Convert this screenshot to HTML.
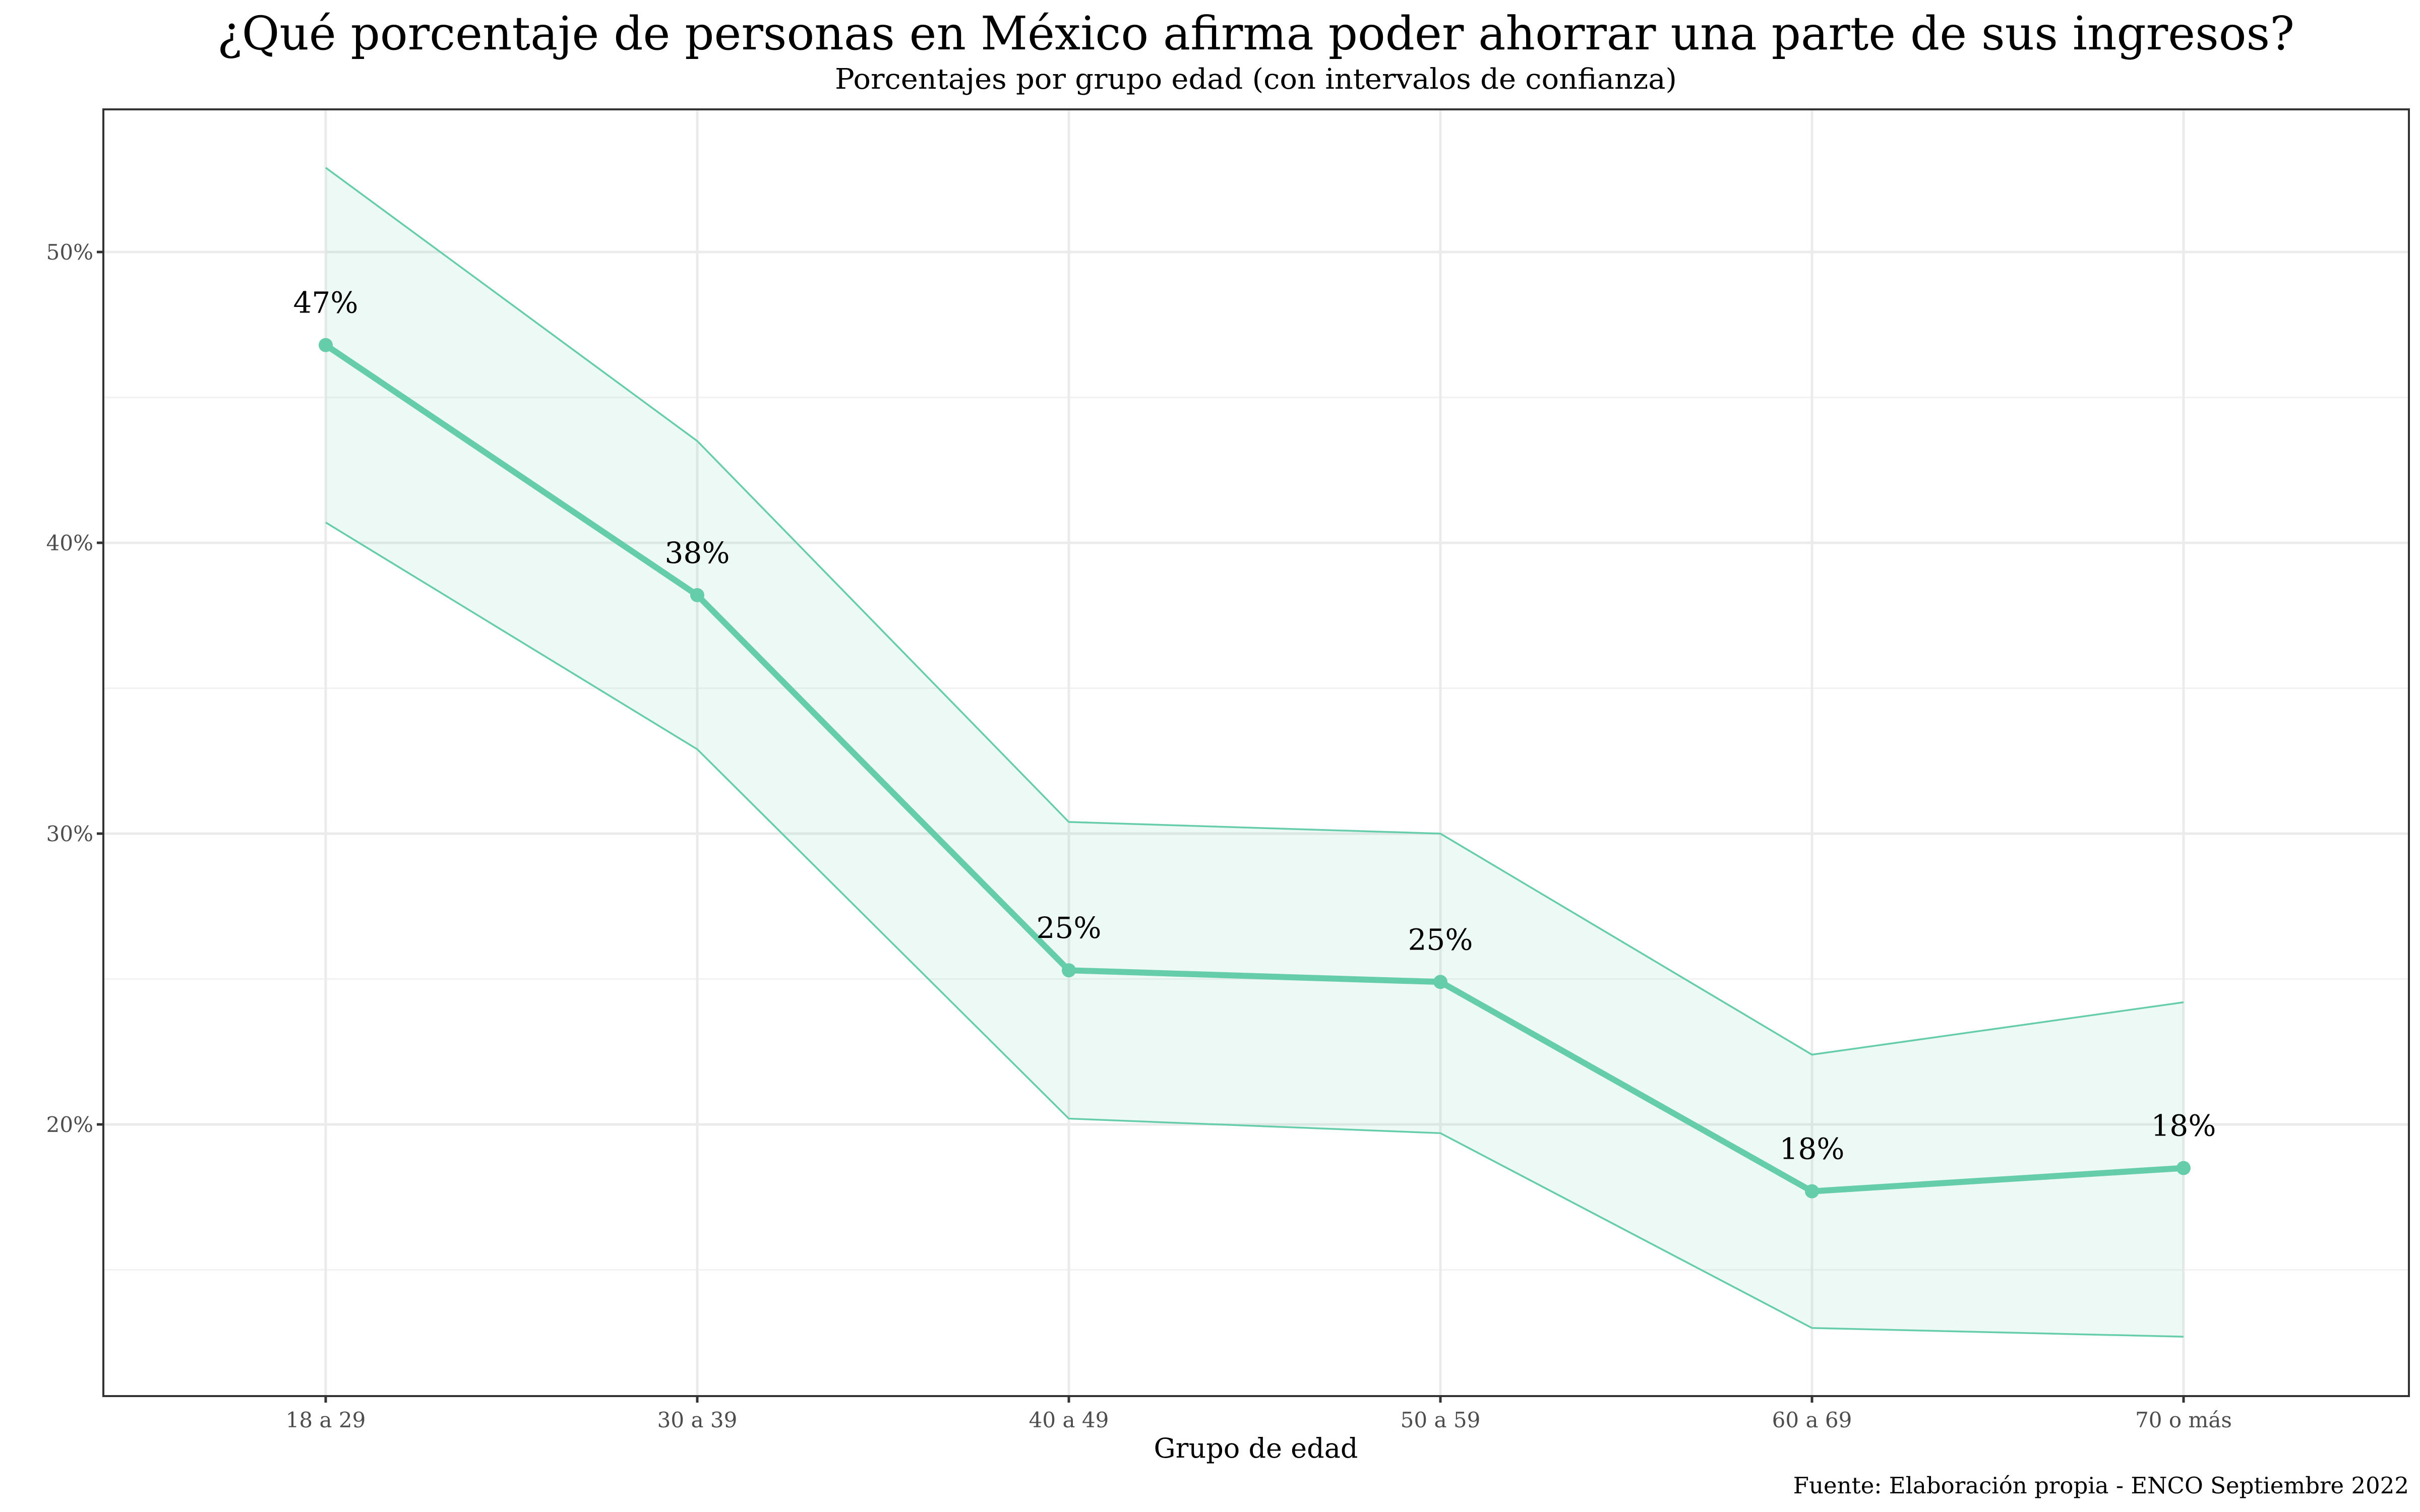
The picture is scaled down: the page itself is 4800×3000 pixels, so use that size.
<!DOCTYPE html>
<html><head><meta charset="utf-8"><style>html,body{margin:0;padding:0;background:#fff}svg{display:block}text{font-family:"DejaVu Serif","Liberation Serif",serif}</style></head>
<body>
<svg id="chart" width="4800" height="3000" viewBox="0 0 4800 3000" xmlns="http://www.w3.org/2000/svg">
<rect width="4800" height="3000" fill="#fff"/>
<text x="2491" y="98" font-size="92" text-anchor="middle" textLength="4120" lengthAdjust="spacingAndGlyphs" fill="#000">¿Qué porcentaje de personas en México afirma poder ahorrar una parte de sus ingresos?</text>
<text x="2491" y="176" font-size="56" text-anchor="middle" textLength="1670" lengthAdjust="spacingAndGlyphs" fill="#000">Porcentajes por grupo edad (con intervalos de confianza)</text>
<g id="grid"></g>
<g id="marks"></g>
<g id="axes"></g>
<text x="2491" y="2892" font-size="54" text-anchor="middle" fill="#000">Grupo de edad</text>
<text x="4778" y="2963" font-size="45" text-anchor="end" fill="#000">Fuente: Elaboración propia - ENCO Septiembre 2022</text>
</svg>
<script>
const categories = ["18 a 29","30 a 39","40 a 49","50 a 59","60 a 69","70 o más"];
const estimate = [46.8, 38.2, 25.3, 24.9, 17.7, 18.5];
const upper = [52.9, 43.5, 30.4, 30.0, 22.4, 24.2];
const lower = [40.7, 32.9, 20.2, 19.7, 13.0, 12.7];
const valueLabels = ["47%","38%","25%","25%","18%","18%"];
const yTicks = [20, 30, 40, 50];
const yMinor = [15, 25, 35, 45];

const NS = "http://www.w3.org/2000/svg";
const L = 205, R = 4778, T = 217, B = 2770;
const X0 = 646, XSTEP = (4331 - 646) / 5;
function xs(i){ return X0 + i * XSTEP; }
function ys(v){ return 500 + (50 - v) * 57.7; }
function mk(tag, attrs, parent){
  const e = document.createElementNS(NS, tag);
  for (const k in attrs) e.setAttribute(k, attrs[k]);
  parent.appendChild(e); return e;
}
const grid = document.getElementById('grid');
const marks = document.getElementById('marks');
const axes = document.getElementById('axes');

yMinor.forEach(v => {
  const l = mk('line', {x1:L, x2:R, y1:ys(v), y2:ys(v), stroke:'#f2f2f2', 'stroke-width':3}, grid);
  
  
});
yTicks.forEach(v => {
  const l = mk('line', {x1:L, x2:R, y1:ys(v), y2:ys(v), stroke:'#ebebeb', 'stroke-width':5}, grid);
  
  
  const tk = mk('line', {x1:L-13, x2:L, y1:ys(v), y2:ys(v), stroke:'#333', 'stroke-width':5}, axes);
  
  
  const t = mk('text', {x:L-20, y:ys(v)+15, 'font-size':42, 'text-anchor':'end', fill:'#4d4d4d'}, axes);
  t.textContent = v + '%';
  
  
});
categories.forEach((c, i) => {
  const l = mk('line', {x1:xs(i), x2:xs(i), y1:T, y2:B, stroke:'#ebebeb', 'stroke-width':5}, grid);
  
  
  const tk = mk('line', {x1:xs(i), x2:xs(i), y1:B, y2:B+13, stroke:'#333', 'stroke-width':5}, axes);
  
  
  const t = mk('text', {x:xs(i), y:B+62, 'font-size':42, 'text-anchor':'middle', fill:'#4d4d4d'}, axes);
  t.textContent = c;
  
  
});

let up = upper.map((v,i)=>xs(i)+','+ys(v));
let lo = lower.map((v,i)=>xs(i)+','+ys(v));
const ribbon = mk('polygon', {points: up.concat(lo.slice().reverse()).join(' '), fill:'#66cdaa', 'fill-opacity':0.12}, marks);


const ul = mk('polyline', {points: up.join(' '), fill:'none', stroke:'#66cdaa', 'stroke-width':3.5}, marks);


const ll = mk('polyline', {points: lo.join(' '), fill:'none', stroke:'#66cdaa', 'stroke-width':3.5}, marks);


const ml = mk('polyline', {points: estimate.map((v,i)=>xs(i)+','+ys(v)).join(' '), fill:'none', stroke:'#66cdaa', 'stroke-width':12, 'stroke-linejoin':'round'}, marks);


estimate.forEach((v,i) => {
  const p = mk('circle', {cx:xs(i), cy:ys(v), r:14, fill:'#66cdaa'}, marks);
  
  
  const t = mk('text', {x:xs(i), y:ys(v)-64, 'font-size':58, 'text-anchor':'middle', fill:'#000'}, marks);
  t.textContent = valueLabels[i];
  
  
});
const frame = mk('rect', {x:L, y:T, width:R-L, height:B-T, fill:'none', stroke:'#333', 'stroke-width':4}, axes);


</script>
</body></html>
